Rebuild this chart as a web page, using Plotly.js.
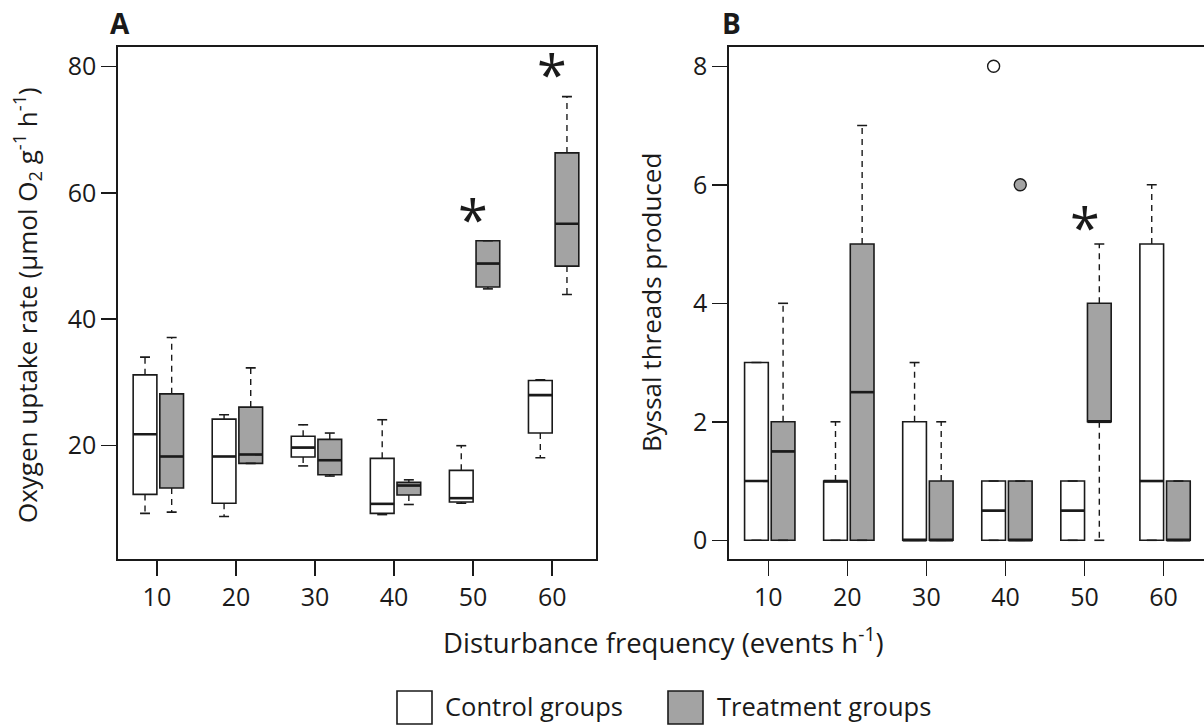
<!DOCTYPE html>
<html><head><meta charset="utf-8">
<script src="https://cdn.plot.ly/plotly-3.0.1.min.js"></script>
<style>html,body{margin:0;padding:0;background:#fff}#chart{width:1204px;height:725px}</style>
</head><body><div id="chart"></div>
<script>
// ---------- data ----------
const categories = [10, 20, 30, 40, 50, 60];

// Panel A: oxygen uptake rate
const aCtrlLower  = [9.3, 8.8, 16.8, 9.1, 10.9, 18.1];
const aCtrlQ1     = [12.3, 10.9, 18.2, 9.3, 11.1, 22.0];
const aCtrlMedian = [21.8, 18.3, 19.7, 10.8, 11.7, 28.0];
const aCtrlQ3     = [31.2, 24.2, 21.5, 18.0, 16.1, 30.3];
const aCtrlUpper  = [34.0, 24.9, 23.3, 24.1, 20.0, 30.4];

const aTrtLower  = [9.5, 17.2, 15.2, 10.7, 44.8, 43.9];
const aTrtQ1     = [13.3, 17.2, 15.4, 12.2, 45.1, 48.4];
const aTrtMedian = [18.3, 18.6, 17.7, 13.7, 48.8, 55.1];
const aTrtQ3     = [28.2, 26.1, 21.0, 14.2, 52.4, 66.3];
const aTrtUpper  = [37.1, 32.3, 22.0, 14.6, 52.4, 75.2];

const aSigCats = [50, 60];
const aSigY    = [57.4, 80.3];

// Panel B: byssal threads produced
const bCtrlLower  = [0, 0, 0, 0, 0, 0];
const bCtrlQ1     = [0, 0, 0, 0, 0, 0];
const bCtrlMedian = [1, 1, 0, 0.5, 0.5, 1];
const bCtrlQ3     = [3, 1, 2, 1, 1, 5];
const bCtrlUpper  = [3, 2, 3, 1, 1, 6];

const bTrtLower  = [0, 0, 0, 0, 0, 0];
const bTrtQ1     = [0, 0, 0, 0, 2, 0];
const bTrtMedian = [1.5, 2.5, 0, 0, 2, 0];
const bTrtQ3     = [2, 5, 1, 1, 4, 1];
const bTrtUpper  = [4, 7, 2, 1, 5, 1];

const bCtrlOutCats = [40];
const bCtrlOutY    = [8];
const bTrtOutCats  = [40];
const bTrtOutY     = [6];

const bSigCats = [50];
const bSigY    = [5.45];

const yTicksA = [20, 40, 60, 80];
const yTicksB = [0, 2, 4, 6, 8];
const legendLabels = ['Control groups', 'Treatment groups'];

// ---------- style ----------
const FONT = 'Open Sans, Noto Sans, DejaVu Sans, sans-serif';
const INK = '#1a1a1a';
const GREY = '#a3a3a3';
const CTRL_OFF = -1.5, TRT_OFF = 1.87, BOX_W = 3.0, CAP_HALF = 0.63;
const W = 1204, H = 725;
const px = v => v / W, py = v => 1 - v / H;

function boxGroup(stats, off, fill, xa, ya) {
  const pos = categories.map(c => c + off);
  const traces = [];
  traces.push({
    type: 'box', x: pos, q1: stats.q1, median: stats.med, q3: stats.q3,
    lowerfence: stats.q1, upperfence: stats.q3,
    width: BOX_W, whiskerwidth: 0, boxpoints: false,
    fillcolor: fill, line: {color: INK, width: 1.6},
    xaxis: xa, yaxis: ya, showlegend: false, hoverinfo: 'skip'
  });
  const wx = [], wy = [];
  pos.forEach((p, i) => {
    if (stats.up[i] > stats.q3[i]) { wx.push(p, p, null); wy.push(stats.q3[i], stats.up[i], null); }
    if (stats.lo[i] < stats.q1[i]) { wx.push(p, p, null); wy.push(stats.q1[i], stats.lo[i], null); }
  });
  traces.push({type: 'scatter', mode: 'lines', x: wx, y: wy,
    line: {color: INK, width: 1.4, dash: '6px,5px'}, xaxis: xa, yaxis: ya,
    showlegend: false, hoverinfo: 'skip'});
  const cx = [], cy = [];
  pos.forEach((p, i) => {
    cx.push(p - CAP_HALF, p + CAP_HALF, null); cy.push(stats.up[i], stats.up[i], null);
    cx.push(p - CAP_HALF, p + CAP_HALF, null); cy.push(stats.lo[i], stats.lo[i], null);
  });
  traces.push({type: 'scatter', mode: 'lines', x: cx, y: cy,
    line: {color: INK, width: 1.6}, xaxis: xa, yaxis: ya,
    showlegend: false, hoverinfo: 'skip'});
  const mx = [], my = [];
  pos.forEach((p, i) => { mx.push(p - BOX_W / 2, p + BOX_W / 2, null); my.push(stats.med[i], stats.med[i], null); });
  traces.push({type: 'scatter', mode: 'lines', x: mx, y: my,
    line: {color: INK, width: 2.6}, xaxis: xa, yaxis: ya,
    showlegend: false, hoverinfo: 'skip'});
  return traces;
}

const traces = [].concat(
  boxGroup({lo: aCtrlLower, q1: aCtrlQ1, med: aCtrlMedian, q3: aCtrlQ3, up: aCtrlUpper}, CTRL_OFF, '#ffffff', 'x', 'y'),
  boxGroup({lo: aTrtLower, q1: aTrtQ1, med: aTrtMedian, q3: aTrtQ3, up: aTrtUpper}, TRT_OFF, GREY, 'x', 'y'),
  boxGroup({lo: bCtrlLower, q1: bCtrlQ1, med: bCtrlMedian, q3: bCtrlQ3, up: bCtrlUpper}, CTRL_OFF, '#ffffff', 'x2', 'y2'),
  boxGroup({lo: bTrtLower, q1: bTrtQ1, med: bTrtMedian, q3: bTrtQ3, up: bTrtUpper}, TRT_OFF, GREY, 'x2', 'y2'),
  [
    {type: 'scatter', mode: 'markers', x: bCtrlOutCats.map(c => c + CTRL_OFF), y: bCtrlOutY,
     marker: {symbol: 'circle', size: 12, color: '#ffffff', line: {color: INK, width: 1.4}},
     xaxis: 'x2', yaxis: 'y2', showlegend: false, hoverinfo: 'skip'},
    {type: 'scatter', mode: 'markers', x: bTrtOutCats.map(c => c + TRT_OFF), y: bTrtOutY,
     marker: {symbol: 'circle', size: 12, color: GREY, line: {color: INK, width: 1.4}},
     xaxis: 'x2', yaxis: 'y2', showlegend: false, hoverinfo: 'skip'}
  ]
);

const axisCommon = {
  showgrid: false, zeroline: false, showline: true, linecolor: INK, linewidth: 2,
  ticks: 'outside', ticklen: 15, tickwidth: 1.5, tickcolor: INK,
  tickfont: {family: FONT, size: 25, color: INK}, fixedrange: true
};

const yDom = [py(559), py(47)];

const annotations = [];
aSigCats.forEach((c, i) => annotations.push({xref: 'x', yref: 'y', x: c, y: aSigY[i], text: '*',
  showarrow: false, font: {family: FONT, size: 54, color: INK}, yshift: -10}));
bSigCats.forEach((c, i) => annotations.push({xref: 'x2', yref: 'y2', x: c, y: bSigY[i], text: '*',
  showarrow: false, font: {family: FONT, size: 54, color: INK}, yshift: -10}));

annotations.push(
  {xref: 'paper', yref: 'paper', x: px(108), y: py(23), xanchor: 'left', yanchor: 'middle',
   text: '<b>A</b>', showarrow: false, font: {family: FONT, size: 28, color: INK}},
  {xref: 'paper', yref: 'paper', x: px(720), y: py(23), xanchor: 'left', yanchor: 'middle',
   text: '<b>B</b>', showarrow: false, font: {family: FONT, size: 28, color: INK}},
  {xref: 'paper', yref: 'paper', x: px(27), y: py(305), xanchor: 'center', yanchor: 'middle', textangle: -90,
   text: 'Oxygen uptake rate (µmol O<sub>2</sub> g<sup>-1</sup> h<sup>-1</sup>)', showarrow: false,
   font: {family: FONT, size: 26, color: INK}},
  {xref: 'paper', yref: 'paper', x: px(651), y: py(303), xanchor: 'center', yanchor: 'middle', textangle: -90,
   text: 'Byssal threads produced', showarrow: false, font: {family: FONT, size: 26, color: INK}},
  {xref: 'paper', yref: 'paper', x: px(663.5), y: py(640), xanchor: 'center', yanchor: 'middle',
   text: 'Disturbance frequency (events h<sup>-1</sup>)', showarrow: false,
   font: {family: FONT, size: 27.5, color: INK}},
  {xref: 'paper', yref: 'paper', x: px(443), y: py(706), xanchor: 'left', yanchor: 'middle',
   text: legendLabels[0], showarrow: false, font: {family: FONT, size: 25.5, color: INK}},
  {xref: 'paper', yref: 'paper', x: px(715), y: py(706), xanchor: 'left', yanchor: 'middle',
   text: legendLabels[1], showarrow: false, font: {family: FONT, size: 25.5, color: INK}}
);

const shapes = [
  {type: 'rect', xref: 'paper', yref: 'paper', x0: px(397), x1: px(432), y0: py(724), y1: py(691),
   fillcolor: '#ffffff', line: {color: INK, width: 1.6}},
  {type: 'rect', xref: 'paper', yref: 'paper', x0: px(668), x1: px(703), y0: py(724), y1: py(691),
   fillcolor: GREY, line: {color: INK, width: 1.6}}
];

const layout = {
  width: W, height: H, autosize: false,
  margin: {l: 0, r: 0, t: 0, b: 0},
  paper_bgcolor: '#ffffff', plot_bgcolor: '#ffffff',
  showlegend: false, boxmode: 'overlay',
  xaxis: Object.assign({}, axisCommon, {domain: [px(118.3), px(595.9)], range: [5.12, 65.53],
    tickvals: categories, mirror: true, anchor: 'y'}),
  yaxis: Object.assign({}, axisCommon, {domain: yDom, range: [2.08, 83.05],
    tickvals: yTicksA, mirror: true, anchor: 'x'}),
  xaxis2: Object.assign({}, axisCommon, {domain: [px(729.4), 1], range: [5.08, 65.11],
    tickvals: categories, mirror: true, anchor: 'y2'}),
  yaxis2: Object.assign({}, axisCommon, {domain: yDom, range: [-0.316, 8.326],
    tickvals: yTicksB, mirror: false, anchor: 'x2'}),
  annotations: annotations,
  shapes: shapes
};

Plotly.newPlot('chart', traces, layout, {displayModeBar: false, staticPlot: true});
</script>
</body></html>
